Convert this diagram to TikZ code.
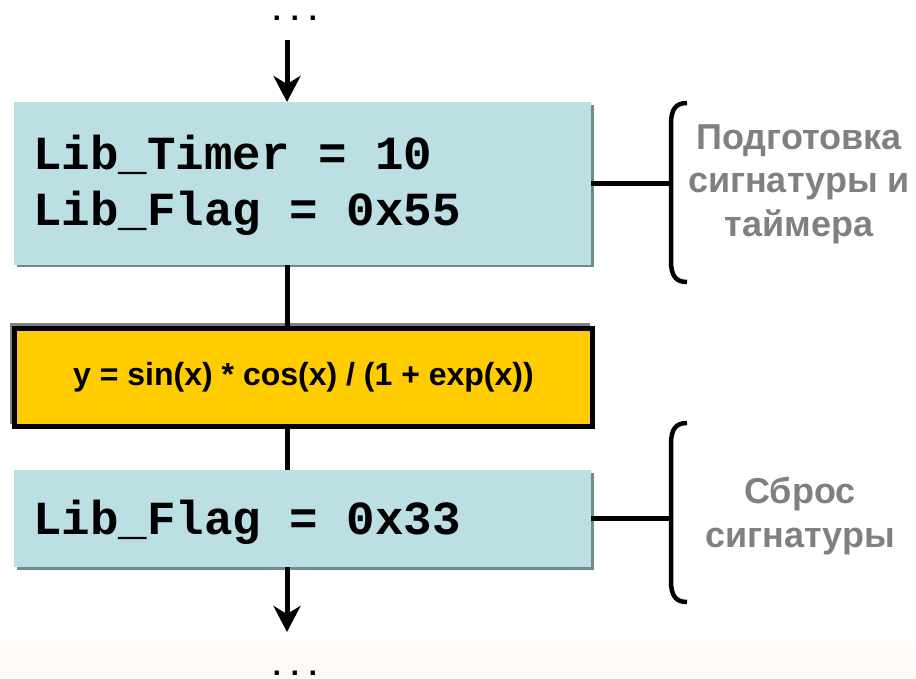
\documentclass[tikz,border=0pt]{standalone}
\usepackage{fontspec}
\setmainfont{Liberation Sans}
\newfontfamily\monofont{Liberation Mono}
\usetikzlibrary{arrows.meta}
\definecolor{boxblue}{RGB}{187,223,227}
\definecolor{boxshadow}{RGB}{110,140,144}
\definecolor{boxyellow}{RGB}{255,204,0}
\definecolor{labelgray}{RGB}{128,128,128}
\definecolor{bgpink}{RGB}{254,248,245}
\tikzset{
  bluebox/.style={rectangle, fill=boxblue, inner sep=0pt, outer sep=0pt},
  yellowbox/.style={rectangle, fill=boxyellow, draw=black, line width=5pt, inner sep=0pt,
     font=\bfseries\fontsize{32}{36}\selectfont},
  codetext/.style={inner sep=0pt, font=\monofont\bfseries\fontsize{47.5}{56}\selectfont},
  dotstext/.style={inner sep=0pt, font=\monofont\bfseries\fontsize{30}{36}\selectfont},
  graytext/.style={inner sep=0pt, align=center, text=labelgray,
     font=\bfseries\fontsize{36}{44}\selectfont},
  conn/.style={line width=4.5pt, draw=black},
  flowarrow/.style={line width=5pt, draw=black, -{Stealth[length=26pt,width=27pt,inset=8pt]}},
  bracket/.style={line width=4.5pt, draw=black}
}
\begin{document}
\begin{tikzpicture}[x=1pt,y=-1pt]
\useasboundingbox (0,0) rectangle (916,679);
% faint background at the bottom
\fill[top color=white, bottom color=bgpink] (0,625) rectangle (916,679);
% shadows
\fill[boxshadow] (17,105) rectangle (594,267);
\fill[boxshadow] (17,473) rectangle (594,570);
\fill[labelgray] (10,323) rectangle (590,424);
% boxes
\node[bluebox, minimum width=577pt, minimum height=163pt] (b1) at (302.5,183.5) {};
\node[yellowbox, minimum width=578pt, minimum height=98pt] (y1) at (303.5,377.5)
  {y = sin(x) * cos(x) / (1 + exp(x))};
\node[bluebox, minimum width=577pt, minimum height=97pt] (b3) at (302.5,518.5) {};
% code texts
\node[codetext, anchor=base west] (t1) at (33,170) {Lib\_Timer = 10};
\node[codetext, anchor=base west] (t2) at (33,226) {Lib\_Flag = 0x55};
\node[codetext, anchor=base west] (t3) at (33,534) {Lib\_Flag = 0x33};
% dots
\node[dotstext, anchor=base] (d0) at (295,21) {...};
\node[dotstext, anchor=base] (d1) at (295,675) {...};
% flow
\coordinate (a0) at (287,40);
\coordinate (a1) at (287,632);
\draw[flowarrow] (a0) -- (a0 |- b1.north);
\draw[conn, line width=5pt] (b1.south -| a0) -- (y1.north -| a0);
\draw[conn, line width=5pt] (y1.south -| a0) -- (b3.north -| a0);
\draw[flowarrow] (b3.south -| a0) -- (a1);
% brackets
\coordinate (br1) at (671,184);
\coordinate (br2) at (671,520);
\draw[bracket] (687,103) .. controls (676,103) and (671,109) .. (671,124)
  -- (671,261) .. controls (671,276) and (676,282) .. (687,282);
\draw[bracket] (687,423) .. controls (676,423) and (671,429) .. (671,444)
  -- (671,581) .. controls (671,596) and (676,602) .. (687,602);
\draw[conn] (b1.east) -- (b1.east -| br1);
\draw[conn] (b3.east) -- (b3.east -| br2);
% labels
\node[graytext, anchor=base] (g1) at (799,237) {Подготовка\\сигнатуры и\\таймера};
\node[graytext, anchor=base] (g2) at (800,547) {Сброс\\сигнатуры};
\end{tikzpicture}
\end{document}
